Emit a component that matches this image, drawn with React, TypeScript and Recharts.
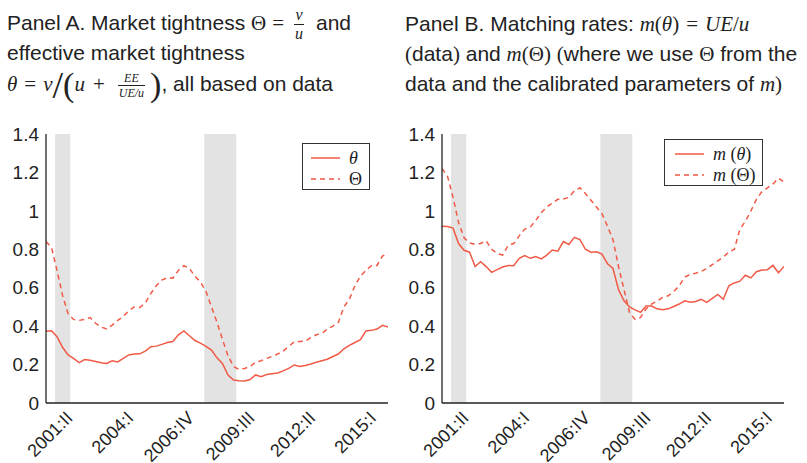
import React from "react";
import { LineChart, Line, XAxis, YAxis, ReferenceArea } from "recharts";

// quarters counted from 2001:II; first observation sits a bit before it
const T_START = -2.5;
const X_TICKS = [0, 11, 22, 33, 44, 55];
const X_LABELS = ["2001:II", "2004:I", "2006:IV", "2009:III", "2012:II", "2015:I"];
const Y_TICKS = [0, 0.2, 0.4, 0.6, 0.8, 1, 1.2, 1.4];
const RECESSIONS = [
  [-0.85, 1.9],
  [26.2, 32.0],
];

// Panel A
const THETA_EFF = [
  0.373, 0.376, 0.345, 0.29, 0.25, 0.232, 0.21, 0.226, 0.222, 0.216,
  0.21, 0.206, 0.22, 0.214, 0.232, 0.25, 0.255, 0.256, 0.27, 0.293,
  0.296, 0.305, 0.315, 0.32, 0.355, 0.375, 0.35, 0.325, 0.312, 0.295,
  0.275, 0.235, 0.205, 0.145, 0.12, 0.116, 0.115, 0.122, 0.146, 0.137,
  0.148, 0.152, 0.156, 0.167, 0.18, 0.198, 0.19, 0.195, 0.203, 0.212,
  0.22, 0.228, 0.242, 0.255, 0.282, 0.3, 0.315, 0.33, 0.375, 0.378,
  0.385, 0.404, 0.395,
];
const THETA_VU = [
  0.84, 0.81, 0.69, 0.56, 0.465, 0.435, 0.43, 0.435, 0.445, 0.415,
  0.395, 0.385, 0.405, 0.43, 0.45, 0.48, 0.5, 0.497, 0.52, 0.57,
  0.61, 0.64, 0.652, 0.65, 0.69, 0.715, 0.7, 0.66, 0.63, 0.58,
  0.5, 0.42, 0.33, 0.245, 0.19, 0.175, 0.18, 0.19, 0.213, 0.22,
  0.232, 0.243, 0.255, 0.27, 0.295, 0.318, 0.32, 0.322, 0.34, 0.355,
  0.362, 0.385, 0.4, 0.42, 0.5, 0.54, 0.61, 0.66, 0.69, 0.715,
  0.716, 0.765, 0.78,
];

// Panel B
const M_THETA = [
  0.92, 0.918, 0.91, 0.83, 0.795, 0.785, 0.71, 0.735, 0.71, 0.68,
  0.694, 0.708, 0.716, 0.714, 0.753, 0.767, 0.753, 0.762, 0.75, 0.77,
  0.796, 0.79, 0.84, 0.825, 0.862, 0.85, 0.8, 0.785, 0.787, 0.775,
  0.725, 0.7, 0.59, 0.532, 0.5, 0.485, 0.472, 0.505, 0.505, 0.49,
  0.486, 0.49, 0.502, 0.515, 0.532, 0.525, 0.528, 0.54, 0.524, 0.545,
  0.565, 0.54, 0.61, 0.625, 0.634, 0.665, 0.651, 0.683, 0.692, 0.694,
  0.716, 0.678, 0.711,
];
const M_THETA_VU = [
  1.22, 1.18, 1.07, 0.94, 0.86, 0.833, 0.825, 0.83, 0.844, 0.8,
  0.778, 0.77, 0.82, 0.83, 0.87, 0.905, 0.915, 0.95, 0.99, 1.02,
  1.04, 1.06, 1.062, 1.07, 1.105, 1.12, 1.09, 1.055, 1.02, 0.985,
  0.92, 0.85, 0.71, 0.59, 0.47, 0.435, 0.445, 0.49, 0.515, 0.53,
  0.55, 0.558, 0.58, 0.61, 0.655, 0.67, 0.675, 0.685, 0.7, 0.72,
  0.74, 0.76, 0.785, 0.8, 0.905, 0.945, 1.0, 1.06, 1.1, 1.12,
  1.14, 1.17, 1.15,
];

const RED = "#f15a46";
const INK = "#222";
const SANS = "'Liberation Sans', Arial, sans-serif";
const SERIF = "'Liberation Serif', 'Times New Roman', serif";

const dataA = THETA_EFF.map((v, i) => ({ t: T_START + i, solid: v, dashed: THETA_VU[i] }));
const dataB = M_THETA.map((v, i) => ({ t: T_START + i, solid: v, dashed: M_THETA_VU[i] }));

function RotTick({ x, y, payload }: any) {
  const ax = x + 14;
  const ay = y + 8;
  return (
    <text
      x={ax}
      y={ay}
      transform={`rotate(-45 ${ax} ${ay})`}
      textAnchor="end"
      fontSize={18}
      fill={INK}
      fontFamily={SANS}
    >
      {X_LABELS[X_TICKS.indexOf(payload.value)]}
    </text>
  );
}

const M = ({ children, it }: any) => (
  <span style={{ fontFamily: SERIF, fontStyle: it ? "italic" : "normal" }}>{children}</span>
);
// binary operator / relation with math spacing
const Op = ({ children, gap = 6 }: any) => (
  <span style={{ fontFamily: SERIF, margin: `0 ${gap}px` }}>{children}</span>
);
const Big = ({ children, size }: any) => (
  <span style={{ fontFamily: SERIF, fontSize: size, verticalAlign: "middle", lineHeight: 0 }}>{children}</span>
);

function Frac({ num, den, size, gap = 3 }: any) {
  return (
    <span
      style={{
        display: "inline-flex",
        flexDirection: "column",
        alignItems: "center",
        verticalAlign: "middle",
        fontSize: size,
        lineHeight: 1,
        margin: `0 ${gap}px`,
        fontFamily: SERIF,
        fontStyle: "italic",
      }}
    >
      <span style={{ padding: "0 1px 1px" }}>{num}</span>
      <span style={{ borderTop: `1px solid ${INK}`, padding: "1px 1px 0", alignSelf: "stretch", textAlign: "center" }}>
        {den}
      </span>
    </span>
  );
}

function TitleLine({ left, top, children }: any) {
  return (
    <div
      style={{
        position: "absolute",
        left,
        top,
        height: 30,
        lineHeight: "30px",
        fontSize: 21,
        fontFamily: SANS,
        color: INK,
        whiteSpace: "nowrap",
      }}
    >
      {children}
    </div>
  );
}

function LegendBox({ left, top, width, items, sample }: any) {
  return (
    <div
      style={{
        position: "absolute",
        left,
        top,
        width,
        height: 47,
        boxSizing: "border-box",
        border: "1.5px solid #333",
        background: "#fff",
        paddingTop: 3,
        paddingLeft: sample,
      }}
    >
      {items.map((it: any) => (
        <div key={it.key} style={{ display: "flex", alignItems: "center", height: 21 }}>
          <svg width={29} height={4} style={{ marginRight: 9 }}>
            <line x1={0} y1={2} x2={29} y2={2} stroke={RED} strokeWidth={1.5} strokeDasharray={it.dash} />
          </svg>
          <span style={{ fontFamily: SERIF, fontSize: 18, color: INK, lineHeight: 1 }}>{it.label}</span>
        </div>
      ))}
    </div>
  );
}

function Panel({ left, data }: any) {
  return (
    <div style={{ position: "absolute", left, top: 120 }}>
      <LineChart width={400} height={343} data={data} margin={{ top: 14, right: 12, bottom: 0, left: 0 }}>
        {RECESSIONS.map(([a, b]) => (
          <ReferenceArea key={a} x1={a} x2={b} y1={0} y2={1.4} fill="#e3e3e3" fillOpacity={1} stroke="none" />
        ))}
        <XAxis
          dataKey="t"
          type="number"
          domain={[-2.5, 59.5]}
          ticks={X_TICKS}
          interval={0}
          tick={<RotTick />}
          tickLine={false}
          axisLine={{ stroke: INK, strokeWidth: 1.3 }}
          height={60}
          allowDataOverflow
        />
        <YAxis
          domain={[0, 1.4]}
          ticks={Y_TICKS}
          interval={0}
          width={46}
          tickLine={false}
          axisLine={{ stroke: INK, strokeWidth: 1.3 }}
          tick={{ fontSize: 19, fill: INK, fontFamily: SANS }}
          tickMargin={1}
        />
        <Line type="linear" dataKey="solid" stroke={RED} strokeWidth={1.5} dot={false} isAnimationActive={false} />
        <Line
          type="linear"
          dataKey="dashed"
          stroke={RED}
          strokeWidth={1.5}
          strokeDasharray="5 4"
          dot={false}
          isAnimationActive={false}
        />
      </LineChart>
    </div>
  );
}

export default function App() {
  return (
    <div style={{ position: "absolute", left: 0, top: 0, width: 807, height: 463, background: "#fff", overflow: "hidden" }}>
      {/* Panel A title */}
      <TitleLine left={7} top={7}>
        Panel A. Market tightness <M>Θ</M>
        <Op>=</Op>
        <Frac num="v" den="u" size={16} gap={4} />
        <span style={{ marginLeft: 8 }}>and</span>
      </TitleLine>
      <TitleLine left={7} top={38}>effective market tightness</TitleLine>
      <TitleLine left={7} top={69}>
        <M it>θ</M>
        <Op gap={7}>=</Op>
        <M it>v</M>
        <Big size={38}>/</Big>
        <Big size={34}>(</Big>
        <M it>u</M>
        <Op gap={8}>+</Op>
        <Frac num="EE" den="UE/u" size={12} gap={5} />
        <Big size={34}>)</Big>, all based on data
      </TitleLine>

      {/* Panel B title */}
      <TitleLine left={405} top={9}>
        Panel B. Matching rates: <M it>m</M>
        <M>(</M>
        <M it>θ</M>
        <M>)</M>
        <Op gap={7}>=</Op>
        <M it>UE</M>
        <M>/</M>
        <M it>u</M>
      </TitleLine>
      <TitleLine left={405} top={39}>
        <M>(</M>data<M>)</M> and <M it>m</M>
        <M>(Θ)</M> <M>(</M>where we use <M>Θ</M> from the
      </TitleLine>
      <TitleLine left={405} top={69}>
        data and the calibrated parameters of <M it>m</M>
        <M>)</M>
      </TitleLine>

      <Panel left={0} data={dataA} />
      <Panel left={396} data={dataB} />

      <LegendBox
        left={302}
        top={143}
        width={68}
        sample={8}
        items={[
          { key: "a", label: <M it>θ</M>, dash: undefined },
          { key: "b", label: <M>Θ</M>, dash: "5 4" },
        ]}
      />
      <LegendBox
        left={664}
        top={139}
        width={99}
        sample={10}
        items={[
          { key: "a", label: <span><i>m</i> (<i>θ</i>)</span>, dash: undefined },
          { key: "b", label: <span><i>m</i> (Θ)</span>, dash: "5 4" },
        ]}
      />
    </div>
  );
}
